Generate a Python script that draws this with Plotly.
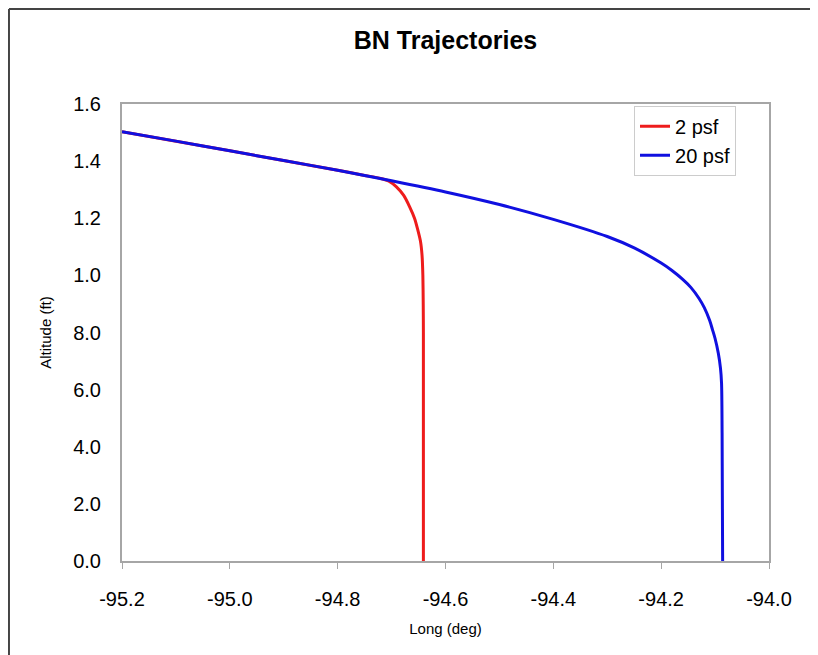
import plotly.graph_objects as go

# 2 psf trajectory (longitude deg, altitude in axis units)
long_2psf = [-95.2, -95.0, -94.8, -94.75, -94.72, -94.705, -94.691, -94.6775, -94.6665,
             -94.6575, -94.6515, -94.6465, -94.6435, -94.642, -94.6413, -94.641, -94.641]
alt_2psf = [15.03, 14.36, 13.68, 13.50, 13.39, 13.30, 13.10, 12.80, 12.40,
            12.00, 11.60, 11.20, 10.70, 10.00, 9.00, 8.00, 0.0]

# 20 psf trajectory
long_20psf = [-95.2, -95.1, -95.0, -94.9, -94.8, -94.7, -94.6, -94.5, -94.4, -94.3,
              -94.25, -94.2, -94.18, -94.16, -94.145, -94.13, -94.12, -94.11, -94.105,
              -94.10, -94.094, -94.090, -94.088, -94.087, -94.086]
alt_20psf = [15.03, 14.70, 14.36, 14.02, 13.68, 13.31, 12.92, 12.48, 11.96, 11.36,
             10.96, 10.43, 10.17, 9.86, 9.58, 9.20, 8.87, 8.42, 8.11,
             7.79, 7.27, 6.75, 6.22, 4.5, 0.0]

x_ticks = [-95.2, -95.0, -94.8, -94.6, -94.4, -94.2, -94.0]
x_labels = ["-95.2", "-95.0", "-94.8", "-94.6", "-94.4", "-94.2", "-94.0"]
y_ticks = [0, 2, 4, 6, 8, 10, 12, 14, 16]
y_labels = ["0.0", "2.0", "4.0", "6.0", "8.0", "1.0", "1.2", "1.4", "1.6"]

FONT = "Liberation Sans, Arial, sans-serif"

fig = go.Figure()
fig.add_trace(go.Scatter(
    x=long_2psf, y=alt_2psf, mode='lines', name='2 psf',
    line=dict(color='#ee1c1c', width=3, shape='spline', smoothing=0.6)
))
fig.add_trace(go.Scatter(
    x=long_20psf, y=alt_20psf, mode='lines', name='20 psf',
    line=dict(color='#1010e0', width=3, shape='spline', smoothing=0.8)
))

fig.update_layout(
    width=818, height=655,
    margin=dict(l=114, r=57, t=96, b=102),
    paper_bgcolor='white', plot_bgcolor='white',
    font=dict(family=FONT, color='black'),
    title=dict(text="<b>BN Trajectories</b>", x=0.5, xref='paper', xanchor='center',
               y=1 - 32 / 655, yanchor='middle', font=dict(size=25, family=FONT)),
    showlegend=True,
    legend=dict(x=0.949, y=0.996, xanchor='right', yanchor='top',
                bgcolor='white', bordercolor='#cccccc', borderwidth=1,
                font=dict(size=20, family=FONT), tracegroupgap=0,
                itemwidth=30),
    shapes=[
        # outer frame (left and top edges visible)
        dict(type='line', xref='paper', yref='paper', x0=-0.1747, x1=-0.1747,
             y0=-1, y1=1.2079, line=dict(color='#444444', width=2)),
        dict(type='line', xref='paper', yref='paper', x0=-0.1747, x1=2,
             y0=1.2079, y1=1.2079, line=dict(color='#444444', width=2)),
    ],
)

fig.update_xaxes(
    range=[-95.2, -94.0], tickvals=x_ticks, ticktext=x_labels,
    showgrid=False, zeroline=False, showline=True, linecolor='#a6a6a6', linewidth=2,
    mirror=True, ticks='outside', ticklen=6, tickcolor='#a6a6a6', tickwidth=1,
    ticklabelstandoff=13, tickfont=dict(size=20, family=FONT),
    title=dict(text="Long (deg)", font=dict(size=15, family=FONT), standoff=14),
)
fig.update_yaxes(
    range=[0, 16], tickvals=y_ticks, ticktext=y_labels,
    showgrid=False, zeroline=False, showline=True, linecolor='#a6a6a6', linewidth=2,
    mirror=True, ticks='', ticklabelstandoff=15, tickfont=dict(size=20, family=FONT),
    title=dict(text="Altitude (ft)", font=dict(size=15, family=FONT), standoff=18),
)

fig.write_html("out.html")
